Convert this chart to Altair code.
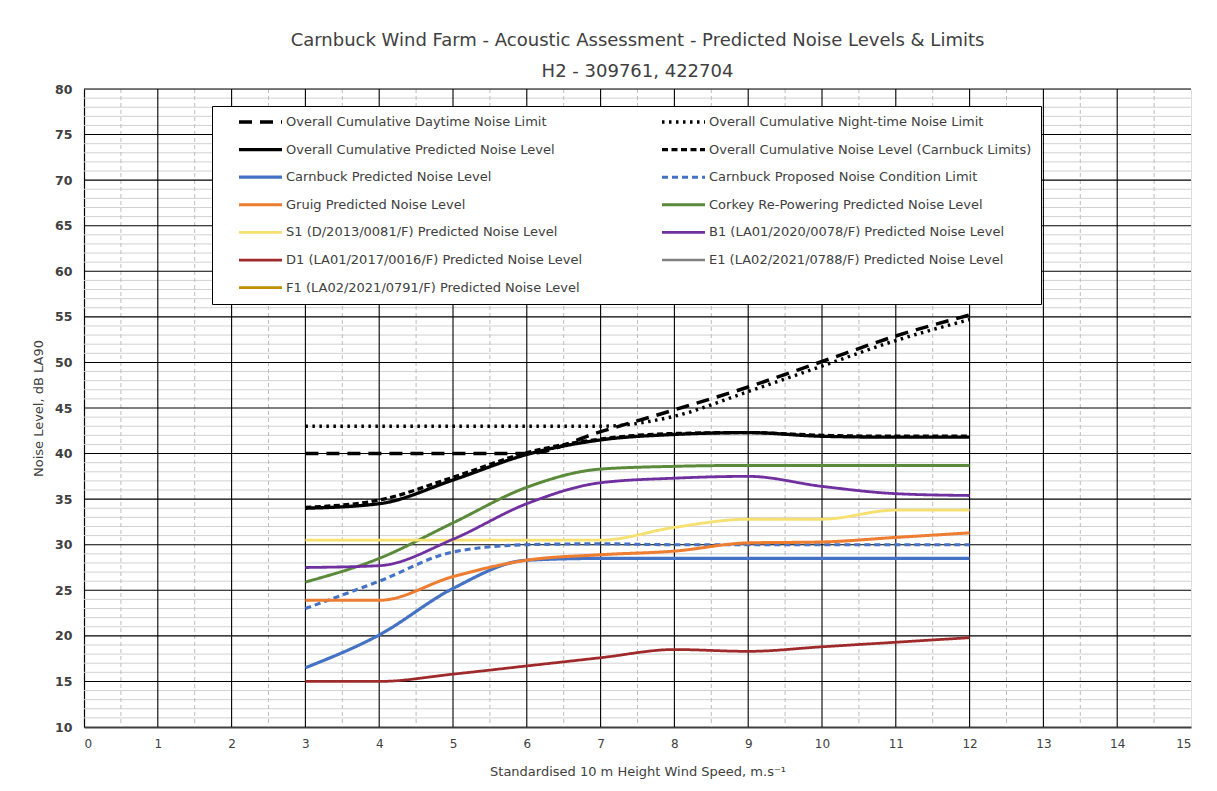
import altair as alt
import pandas as pd

# ---------------- data ----------------
wind_speed = [3, 4, 5, 6, 7, 8, 9, 10, 11, 12]

series_names = [
    "Overall Cumulative Daytime Noise Limit",
    "Overall Cumulative Night-time Noise Limit",
    "Overall Cumulative Predicted Noise Level",
    "Overall Cumulative Noise Level (Carnbuck Limits)",
    "Carnbuck Predicted Noise Level",
    "Carnbuck Proposed Noise Condition Limit",
    "Gruig Predicted Noise Level",
    "Corkey Re-Powering Predicted Noise Level",
    "S1 (D/2013/0081/F) Predicted Noise Level",
    "B1 (LA01/2020/0078/F) Predicted Noise Level",
    "D1 (LA01/2017/0016/F) Predicted Noise Level",
    "E1 (LA02/2021/0788/F) Predicted Noise Level",
    "F1 (LA02/2021/0791/F) Predicted Noise Level",
]

daytime_limit = [40.0, 40.0, 40.0, 40.0, 42.4, 44.8, 47.3, 50.1, 52.9, 55.2]
night_limit = [43.0, 43.0, 43.0, 43.0, 43.0, 44.1, 46.8, 49.6, 52.4, 54.7]
overall_predicted = [34.0, 34.5, 37.1, 39.9, 41.5, 42.1, 42.3, 41.9, 41.8, 41.8]
overall_carnbuck_limits = [34.1, 34.9, 37.4, 40.1, 41.6, 42.2, 42.3, 42.0, 41.9, 41.9]
carnbuck_predicted = [16.5, 20.1, 25.2, 28.3, 28.5, 28.5, 28.5, 28.5, 28.5, 28.5]
carnbuck_limit = [23.0, 26.0, 29.2, 30.0, 30.1, 30.0, 30.0, 30.0, 30.0, 30.0]
gruig = [23.9, 23.9, 26.5, 28.3, 28.9, 29.3, 30.2, 30.3, 30.8, 31.3]
corkey = [25.9, 28.5, 32.4, 36.3, 38.3, 38.6, 38.7, 38.7, 38.7, 38.7]
s1 = [30.5, 30.5, 30.5, 30.5, 30.5, 31.9, 32.8, 32.8, 33.8, 33.8]
b1 = [27.5, 27.7, 30.6, 34.5, 36.8, 37.3, 37.5, 36.4, 35.6, 35.4]
d1 = [15.0, 15.0, 15.8, 16.7, 17.6, 18.5, 18.3, 18.8, 19.3, 19.8]
e1 = []
f1 = []

series_values = [daytime_limit, night_limit, overall_predicted, overall_carnbuck_limits,
                 carnbuck_predicted, carnbuck_limit, gruig, corkey, s1, b1, d1, e1, f1]

# ---------------- styles ----------------
series_colors = ["#000000", "#000000", "#000000", "#000000",
                 "#4472C4", "#4472C4", "#ED7D31", "#5A8A3A",
                 "#F5E070", "#7030A0", "#9E2A2B", "#808080", "#BF9000"]
series_dash = [[13, 8], [2.5, 4.5], [1, 0], [6, 3.5],
               [1, 0], [6, 4], [1, 0], [1, 0],
               [1, 0], [1, 0], [1, 0], [1, 0], [1, 0]]
series_width = [3.5, 2.6, 2.6, 2.2, 2.0, 2.0, 2.8, 2.2, 2.6, 2.6, 2.6, 3.5, 2.2]

rows = []
for name, vals in zip(series_names, series_values):
    for x, v in zip(wind_speed, vals):
        rows.append({"series": name, "wind": x, "level": v})
df = pd.DataFrame(rows)

FONT = "DejaVu Sans"
TXT = "#404040"

x_scale = alt.Scale(domain=[0, 15], nice=False, zero=False)
y_scale = alt.Scale(domain=[10, 80], nice=False, zero=False)

legend = alt.Legend(
    orient="none", legendX=128, legendY=17, columns=2, direction="horizontal", title=None,
    symbolType="stroke", symbolSize=1849, clipHeight=14,
    rowPadding=13.6, columnPadding=61, padding=9,
    symbolOffset=16, labelOffset=2,
    labelFont=FONT, labelFontSize=13, labelColor=TXT, labelLimit=600,
    fillColor="white", strokeColor="#000000",
)

# ---------------- grid ----------------
minor_y = [v for v in range(11, 80) if v % 5 != 0]
major_y = list(range(15, 81, 5))
minor_x = [i + 0.5 for i in range(0, 15)]
major_x = list(range(1, 15))

minor_h = alt.Chart(pd.DataFrame({"y": minor_y})).mark_rule(
    color="#d2d2d2", strokeWidth=1).encode(y=alt.Y("y:Q", scale=y_scale))
minor_v = alt.Chart(pd.DataFrame({"x": minor_x})).mark_rule(
    color="#bdbdbd", strokeWidth=1, strokeDash=[4, 3]).encode(x=alt.X("x:Q", scale=x_scale))
major_h = alt.Chart(pd.DataFrame({"y": major_y})).mark_rule(
    color="#000000", strokeWidth=1.1).encode(y=alt.Y("y:Q", scale=y_scale))
major_v = alt.Chart(pd.DataFrame({"x": major_x})).mark_rule(
    color="#000000", strokeWidth=1.1).encode(x=alt.X("x:Q", scale=x_scale))

# ---------------- lines ----------------
lines = alt.Chart(df).mark_line(interpolate="monotone").encode(
    x=alt.X("wind:Q", scale=x_scale,
            axis=alt.Axis(values=list(range(0, 16)), format="d",
                          title="Standardised 10 m Height Wind Speed, m.s\u207b\u00b9",
                          grid=False, ticks=False, domainColor="#404040", domainWidth=2.2,
                          labelFont=FONT, labelFontSize=12, labelColor=TXT, labelPadding=11,
                          titleFont=FONT, titleFontSize=13, titleColor=TXT, titleFontWeight="normal",
                          titlePadding=16)),
    y=alt.Y("level:Q", scale=y_scale,
            axis=alt.Axis(values=list(range(10, 81, 5)), format="d", title="Noise Level, dB LA90",
                          grid=False, ticks=False, domainColor="#000000", domainWidth=1.2,
                          labelFont=FONT, labelFontSize=12.5, labelFontWeight="bold", labelColor=TXT,
                          labelPadding=12, titleFont=FONT, titleFontSize=13, titleColor=TXT,
                          titleFontWeight="normal", titlePadding=9)),
    color=alt.Color("series:N", scale=alt.Scale(domain=series_names, range=series_colors), legend=legend),
    strokeDash=alt.StrokeDash("series:N", scale=alt.Scale(domain=series_names, range=series_dash), legend=legend),
    strokeWidth=alt.StrokeWidth("series:N", scale=alt.Scale(domain=series_names, range=series_width), legend=legend),
    order=alt.Order("wind:Q"),
)

chart = alt.layer(minor_h, minor_v, major_h, major_v, lines).properties(
    width=1107, height=638,
    title=alt.TitleParams(
        text=["Carnbuck Wind Farm - Acoustic Assessment - Predicted Noise Levels & Limits",
              "H2 - 309761, 422704"],
        font=FONT, fontSize=18, fontWeight="normal", color=TXT, anchor="middle",
        frame="group", lineHeight=31, offset=2),
    autosize=alt.AutoSizeParams(type="none"),
    padding={"left": 76, "top": 81, "right": 18, "bottom": 56},
).configure_view(stroke=None).configure(background="white")

chart.save("out.html", embed_options={"renderer": "svg", "actions": False})
